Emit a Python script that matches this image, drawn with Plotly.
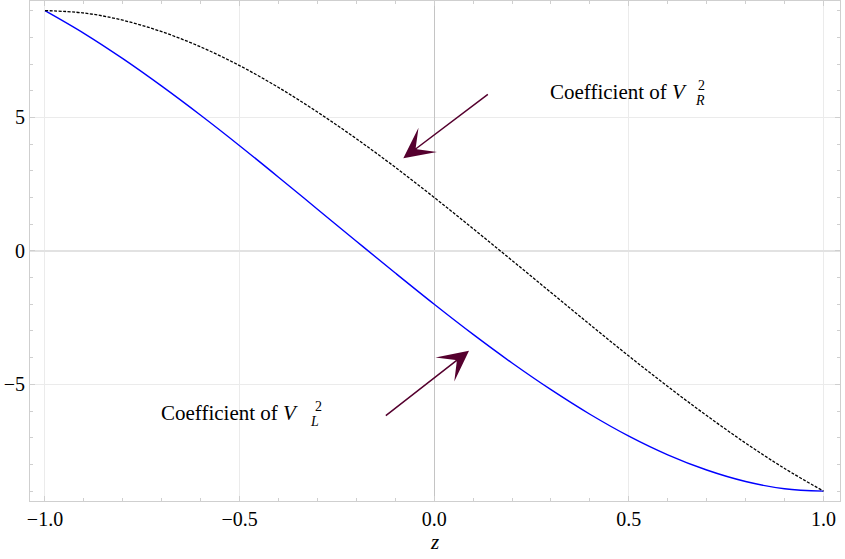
import plotly.graph_objects as go

# z sample positions
z_vals = [-1.0, -0.9, -0.8, -0.7, -0.6, -0.5, -0.4, -0.3, -0.2, -0.1, 0.0,
          0.1, 0.2, 0.3, 0.4, 0.5, 0.6, 0.7, 0.8, 0.9, 1.0]
# Coefficient of V_R^2 (black dotted curve)
coef_VR2 = [9.00, 8.91, 8.64, 8.21, 7.64, 6.94, 6.12, 5.20, 4.20, 3.13, 2.00,
            0.83, -0.36, -1.56, -2.76, -3.94, -5.08, -6.17, -7.20, -8.15, -9.00]
# Coefficient of V_L^2 (blue solid curve)
coef_VL2 = [9.00, 8.15, 7.20, 6.17, 5.08, 3.94, 2.76, 1.56, 0.36, -0.83, -2.00,
            -3.13, -4.20, -5.20, -6.12, -6.94, -7.64, -8.21, -8.64, -8.91, -9.00]

x_ticks = [-1.0, -0.5, 0.0, 0.5, 1.0]
x_tick_text = ["\u22121.0", "\u22120.5", "0.0", "0.5", "1.0"]
y_ticks = [-5, 0, 5]
y_tick_text = ["\u22125", "0", "5"]

label_R = "Coefficient of <i>V</i>"
label_L = "Coefficient of <i>V</i>"

SERIF = "Liberation Serif"
FRAME = "#cfcfcf"
GRID = "#ebebeb"
ARROW = "#55002e"

fig = go.Figure()
fig.add_trace(go.Scatter(x=z_vals, y=coef_VL2, mode="lines", line_shape="spline",
                         line=dict(color="#0000ff", width=1.4), showlegend=False,
                         hoverinfo="skip"))
fig.add_trace(go.Scatter(x=z_vals, y=coef_VR2, mode="lines", line_shape="spline",
                         line=dict(color="#000000", width=1.3, dash="3px,1.5px"),
                         showlegend=False, hoverinfo="skip"))

# arrows
fig.add_annotation(x=-0.0794, y=3.468, ax=0.1416, ay=5.903, xref="x", yref="y",
                   axref="x", ayref="y", text="", showarrow=True, arrowhead=3,
                   arrowwidth=1.5, arrowsize=3.4, arrowcolor=ARROW)
fig.add_annotation(x=0.0894, y=-3.741, ax=-0.1282, ay=-6.214, xref="x", yref="y",
                   axref="x", ayref="y", text="", showarrow=True, arrowhead=3,
                   arrowwidth=1.5, arrowsize=3.4, arrowcolor=ARROW)

# labels
fig.add_annotation(x=0.2916, y=5.97, xref="x", yref="y", text=label_R, showarrow=False,
                   xanchor="left", yanchor="middle", font=dict(family=SERIF, size=21, color="black"))
fig.add_annotation(x=0.6879, y=6.2, xref="x", yref="y", text="2", showarrow=False,
                   xanchor="center", yanchor="middle", font=dict(family=SERIF, size=14, color="black"))
fig.add_annotation(x=0.682, y=5.64, xref="x", yref="y", text="<i>R</i>", showarrow=False,
                   xanchor="center", yanchor="middle", font=dict(family=SERIF, size=14, color="black"))

fig.add_annotation(x=-0.707, y=-6.06, xref="x", yref="y", text=label_L, showarrow=False,
                   xanchor="left", yanchor="middle", font=dict(family=SERIF, size=21, color="black"))
fig.add_annotation(x=-0.2985, y=-5.83, xref="x", yref="y", text="2", showarrow=False,
                   xanchor="center", yanchor="middle", font=dict(family=SERIF, size=14, color="black"))
fig.add_annotation(x=-0.3085, y=-6.39, xref="x", yref="y", text="<i>L</i>", showarrow=False,
                   xanchor="center", yanchor="middle", font=dict(family=SERIF, size=14, color="black"))

fig.update_layout(
    width=845, height=559,
    margin=dict(l=30, r=5, t=1, b=58, autoexpand=False),
    paper_bgcolor="white", plot_bgcolor="white",
    font=dict(family=SERIF, size=20, color="black"),
    xaxis=dict(range=[-1.0385, 1.0425], tickvals=x_ticks, ticktext=x_tick_text,
               automargin=False,
               showline=True, linecolor=FRAME, linewidth=1, mirror="ticks",
               ticks="inside", ticklen=5, tickcolor=FRAME,
               minor=dict(dtick=0.1, ticks="inside", ticklen=3, tickcolor=FRAME, showgrid=False),
               showgrid=True, gridcolor=GRID, gridwidth=1,
               zeroline=True, zerolinecolor="#c4c4c4", zerolinewidth=1,
               title=dict(text="<i>z</i>", font=dict(family=SERIF, size=21), standoff=4),
               tickfont=dict(family=SERIF, size=20)),
    yaxis=dict(range=[-9.37, 9.36], tickvals=y_ticks, ticktext=y_tick_text,
               automargin=False,
               showline=True, linecolor=FRAME, linewidth=1, mirror="ticks",
               ticks="inside", ticklen=5, tickcolor=FRAME,
               minor=dict(dtick=1, ticks="inside", ticklen=3, tickcolor=FRAME, showgrid=False),
               showgrid=True, gridcolor=GRID, gridwidth=1,
               zeroline=True, zerolinecolor="#e2e2e2", zerolinewidth=1.5,
               tickfont=dict(family=SERIF, size=20)),
)

fig.write_html("out.html", config={"displayModeBar": False},
               post_script="document.body.style.margin='0';document.body.style.overflow='hidden';")
